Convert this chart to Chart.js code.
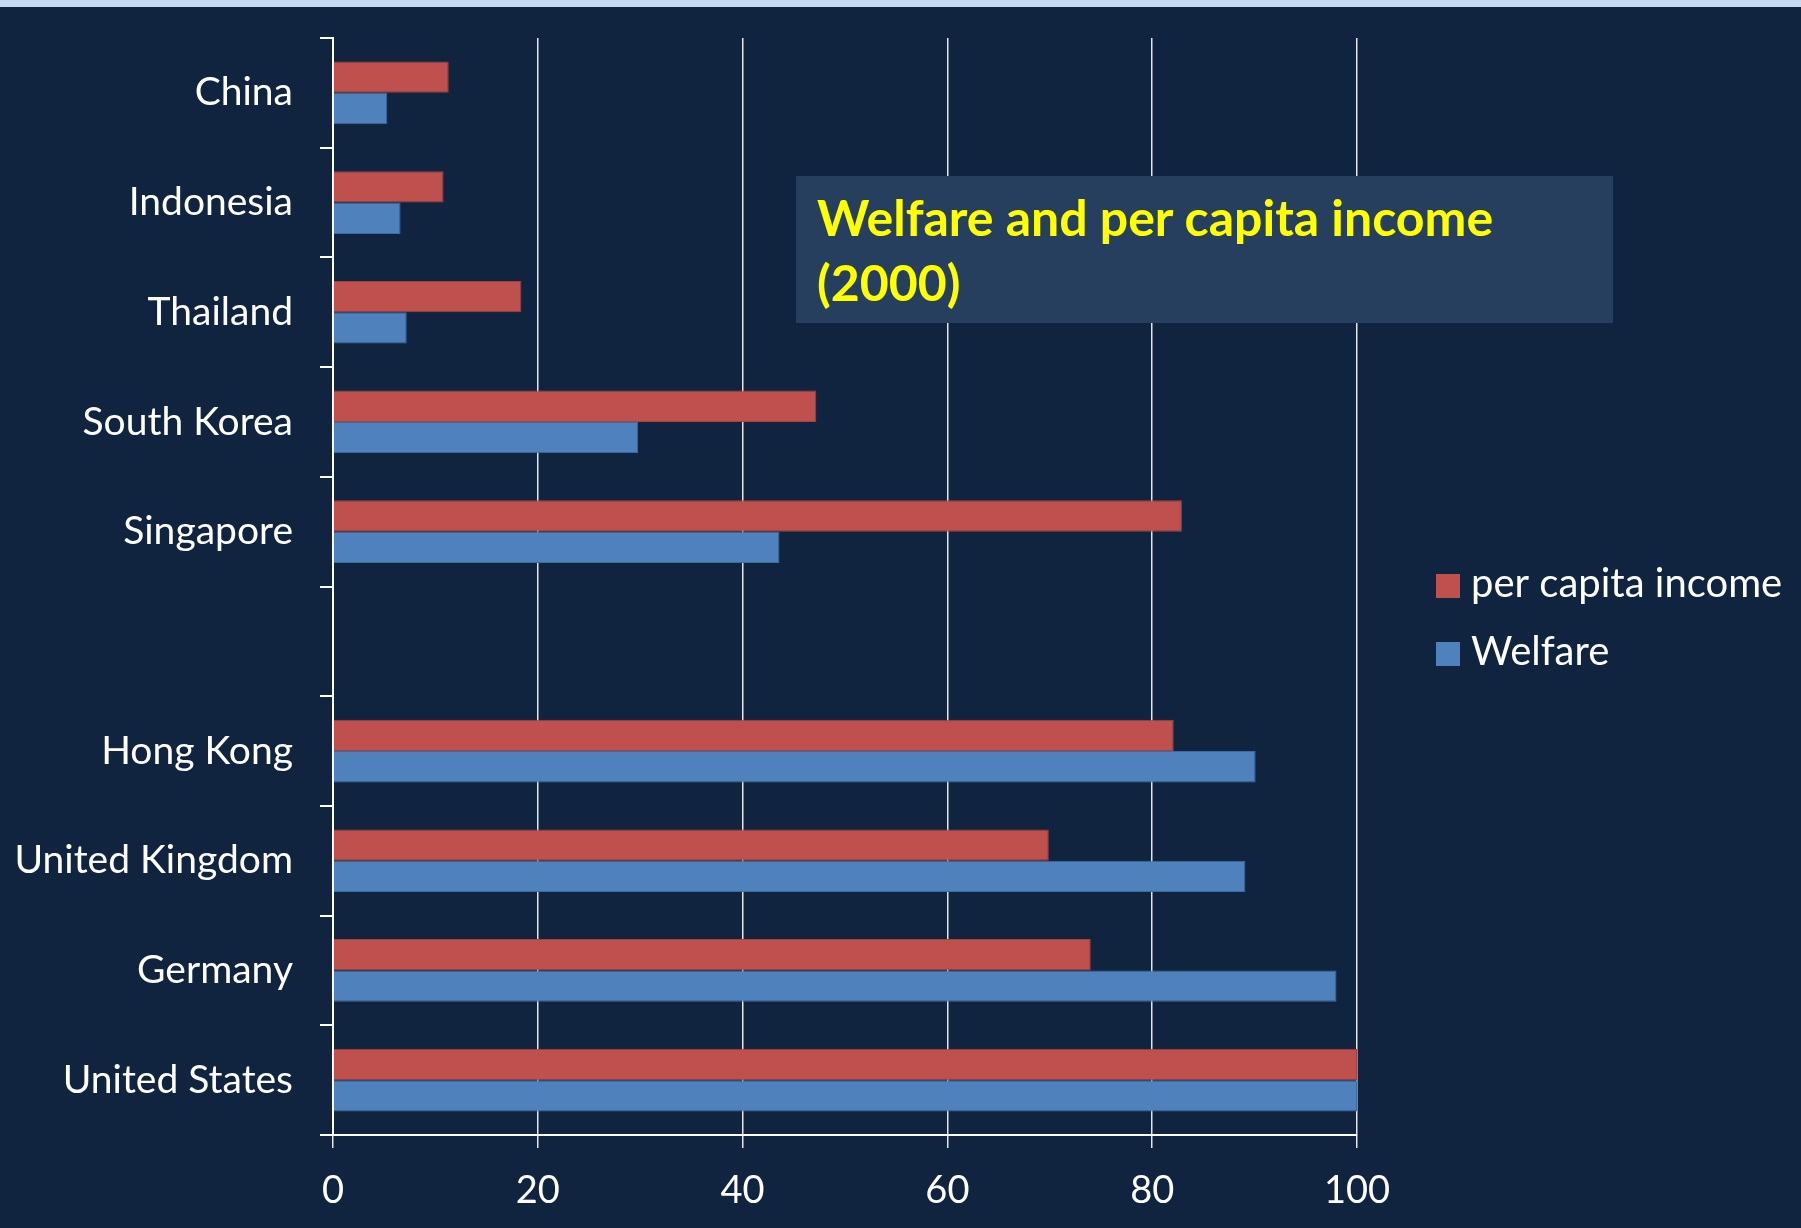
<!DOCTYPE html>
<html>
<head>
<meta charset="utf-8">
<title>Welfare and per capita income (2000)</title>
<script src="https://cdn.jsdelivr.net/npm/chart.js@4.4.1/dist/chart.umd.min.js"></script>
<style>
  html, body { margin: 0; padding: 0; background: #10243f; overflow: hidden; }
  #wrap { position: relative; width: 1801px; height: 1228px; }
  #topBand { position: absolute; left: 0; top: 0; width: 1801px; height: 7px; background: #c6d9f1; }
  #titleBox {
    position: absolute; left: 796px; top: 176px; width: 796px; height: 138px;
    padding: 9px 0 0 21px; background: #263f5f;
    font-family: Lato, sans-serif; font-weight: bold; font-size: 50px; line-height: 65px;
    color: #ffff00;
  }
</style>
</head>
<body>
<div id="wrap">
  <canvas id="chart" width="1801" height="1228"></canvas>
  <div id="topBand"></div>
  <div id="titleBox">Welfare and per capita income<br>(2000)</div>
</div>
<script>
// countries top to bottom, the empty slot splits the two groups
const countries = ['China', 'Indonesia', 'Thailand', 'South Korea', 'Singapore', '',
                   'Hong Kong', 'United Kingdom', 'Germany', 'United States'];
const incomeValues  = [11.3, 10.8, 18.4, 47.2, 82.9, null, 82.1, 69.9, 74.0, 100];
const welfareValues = [5.3, 6.6, 7.2, 29.8, 43.6, null, 90.1, 89.1, 98.0, 100];
const xTicks = [0, 20, 40, 60, 80, 100];

const RED = '#c0504d';
const BLUE = '#4f81bd';
const FONT = 'Lato, sans-serif';

// legend drawn as a small list to the right of the plot
const sideLegend = {
    id: 'sideLegend',
    afterDraw(chart, args, opts) {
        const ctx = chart.ctx;
        ctx.save();
        ctx.font = opts.fontSize + 'px ' + FONT;
        ctx.textBaseline = 'alphabetic';
        ctx.textAlign = 'left';
        chart.data.datasets.forEach(function(ds, i) {
            const top = opts.y + i * opts.step;
            ctx.fillStyle = ds.backgroundColor;
            ctx.fillRect(opts.x, top, opts.box, opts.box);
            ctx.fillStyle = '#ffffff';
            ctx.fillText(ds.label, opts.x + opts.box + 11, top + opts.box - 1);
        });
        ctx.restore();
    }
};

const ctx = document.getElementById('chart').getContext('2d');
const myChart = new Chart(ctx, {
    type: 'bar',
    data: {
        labels: countries,
        datasets: [{
            label: 'per capita income',
            data: incomeValues,
            backgroundColor: RED,
            borderColor: '#a04441',
            borderWidth: 1
        }, {
            label: 'Welfare',
            data: welfareValues,
            backgroundColor: BLUE,
            borderColor: '#3f6c9e',
            borderWidth: 1
        }]
    },
    options: {
        indexAxis: 'y',
        responsive: false,
        animation: false,
        devicePixelRatio: 1,
        categoryPercentage: 0.572,
        barPercentage: 1.0,
        layout: { padding: { top: 38, right: 444, bottom: 0, left: 0 } },
        plugins: {
            legend: { display: false },
            tooltip: { enabled: false },
            sideLegend: { x: 1436, y: 574, step: 68, box: 24, fontSize: 40 }
        },
        scales: {
            x: {
                min: 0,
                max: 100,
                afterBuildTicks: function(scale) {
                    scale.ticks = xTicks.map(v => ({ value: v }));
                },
                afterFit: function(scale) { scale.height = 93; },
                border: { color: '#ffffff', width: 2 },
                grid: { color: '#e6e6e6', lineWidth: 1.5, tickLength: 13 },
                ticks: {
                    color: '#ffffff',
                    padding: 20,
                    maxRotation: 0,
                    font: { family: FONT, size: 38 }
                }
            },
            y: {
                afterFit: function(scale) {
                    scale.width = 333;
                    scale.paddingTop = 0;
                    scale.paddingBottom = 0;
                },
                border: { color: '#ffffff', width: 2 },
                grid: { drawOnChartArea: false, color: '#ffffff', lineWidth: 2, tickLength: 13, offset: true },
                ticks: {
                    color: '#ffffff',
                    padding: 27,
                    font: { family: FONT, size: 39 }
                }
            }
        }
    },
    plugins: [sideLegend]
});
</script>
</body>
</html>
